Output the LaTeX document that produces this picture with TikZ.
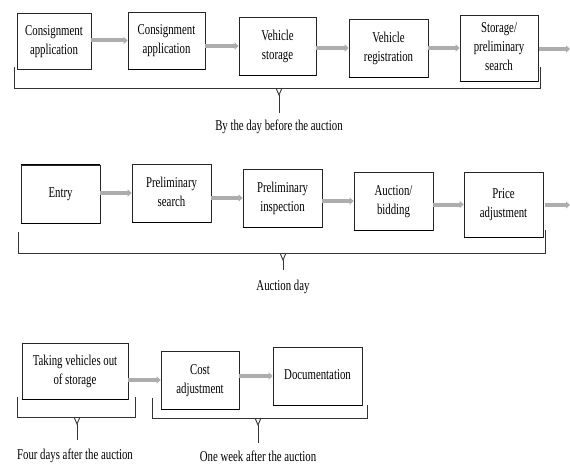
\documentclass[tikz,border=0pt]{standalone}
\usepackage{fontspec}
\setmainfont{Liberation Serif}
\usepackage{graphicx}
\usetikzlibrary{arrows.meta}
\newcommand{\sqz}[1]{\scalebox{0.72}[1]{\begin{tabular}{@{}c@{}}#1\end{tabular}}}
\begin{document}
\begin{tikzpicture}[x=1pt,y=-1pt,
  box/.style={draw=black!85, line width=0.7pt, inner sep=0pt, font=\fontsize{15}{19}\selectfont},
  lbl/.style={inner sep=0pt, font=\fontsize{15}{19}\selectfont},
  flow/.style={draw=black!32, line width=4pt, -{Triangle[length=4pt,width=7pt]}},
  brace/.style={draw=black!80, line width=0.9pt}]
\fill[white] (0,0) rectangle (570,468);
\useasboundingbox (0,0) rectangle (570,468);
% row 1
\node[box, minimum width=74, minimum height=56] (b1) at (54,41) {\sqz{Consignment\\application}};
\node[box, minimum width=77, minimum height=57] (b2) at (166.5,40.5) {\sqz{Consignment\\application}};
\node[box, minimum width=77, minimum height=58] (b3) at (277.5,46) {\sqz{Vehicle\\storage}};
\node[box, minimum width=79, minimum height=58] (b4) at (388.5,48) {\sqz{Vehicle\\registration}};
\node[box, minimum width=78, minimum height=66] (b5) at (499,48) {\sqz{Storage/\\preliminary\\search}};
\coordinate (o1) at (570,49);
% row 2
\node[box, minimum width=79, minimum height=58] (c1) at (60.5,194) {\sqz{Entry}};
\node[box, minimum width=79, minimum height=58] (c2) at (171.5,193) {\sqz{Preliminary\\search}};
\node[box, minimum width=79, minimum height=58] (c3) at (282.5,198) {\sqz{Preliminary\\inspection}};
\node[box, minimum width=79, minimum height=58] (c4) at (393.5,201) {\sqz{Auction/\\bidding}};
\node[box, minimum width=79, minimum height=65] (c5) at (503.5,204.5) {\sqz{Price\\adjustment}};
\coordinate (o2) at (570,205);
% row 3
\node[box, minimum width=106, minimum height=56] (d1) at (75,371) {\sqz{Taking vehicles out\\of storage}};
\node[box, minimum width=78, minimum height=58] (d2) at (200,380) {\sqz{Cost\\adjustment}};
\node[box, minimum width=89, minimum height=58] (d3) at (317.5,376) {\sqz{Documentation}};
% thicker bottom edges
\foreach \n in {b2,b3,b4,b5,c1,c2,c3,c4,c5,d1,d2,d3}
  \draw[line width=1.6pt] (\n.south west) -- (\n.south east);
\draw[line width=1.6pt] (c1.north west) -- (c1.north east);
% arrows
\draw[flow] (b1.east |- b2.west) -- (b2.west);
\draw[flow] (b2.east |- b3.west) -- (b3.west);
\draw[flow] (b3.east |- b4.west) -- (b4.west);
\draw[flow] (b4.east |- b5.west) -- (b5.west);
\draw[flow] ([xshift=1pt]b5.east |- o1) -- (o1);
\draw[flow] (c1.east |- c2.west) -- (c2.west);
\draw[flow] (c2.east |- c3.west) -- (c3.west);
\draw[flow] (c3.east |- c4.west) -- (c4.west);
\draw[flow] (c4.east |- c5.west) -- (c5.west);
\draw[flow] ([xshift=2pt]c5.east |- o2) -- (o2);
\draw[flow] (d1.east |- d2.west) -- (d2.west);
\draw[flow] (d2.east |- d3.west) -- (d3.west);
% braces
\coordinate (e1) at (279,113);
\draw[brace] (14,67) -- (14,88) -- (540,88) -- (540,67);
\draw[brace] (276,88) -- (279,95) -- (282,88);
\draw[brace] (279,95) -- (e1);
\node[lbl] (l1) at (279,127) {\sqz{By the day before the auction}};
\coordinate (e2) at (283,270);
\draw[brace] (18,232) -- (18,253) -- (545,253) -- (545,230);
\draw[brace] (280,253) -- (283,260) -- (286,253);
\draw[brace] (283,260) -- (e2);
\node[lbl] (l2) at (283,287) {\sqz{Auction day}};
\coordinate (e3) at (77,440);
\draw[brace] (17,397) -- (17,417) -- (135,417) -- (135,397);
\draw[brace] (74,417) -- (77,424) -- (80,417);
\draw[brace] (77,424) -- (e3);
\node[lbl] (l3) at (75,456) {\sqz{Four days after the auction}};
\coordinate (e4) at (258,443);
\draw[brace] (152,398) -- (152,418) -- (367,418) -- (367,405);
\draw[brace] (255,418) -- (258,425) -- (261,418);
\draw[brace] (258,425) -- (e4);
\node[lbl] (l4) at (258,458) {\sqz{One week after the auction}};
\end{tikzpicture}
\end{document}
